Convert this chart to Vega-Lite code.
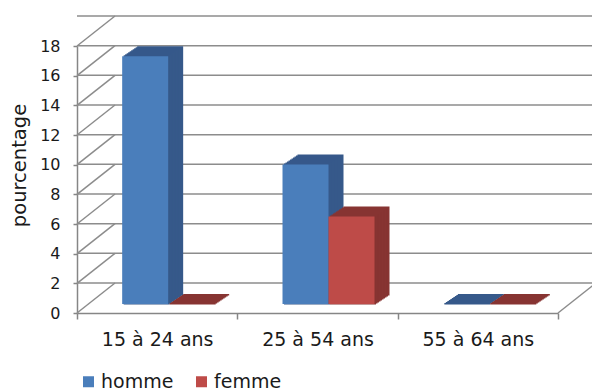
{
  "$schema": "https://vega.github.io/schema/vega-lite/v6.json",
  "width": 481,
  "height": 267,
  "autosize": {"type": "none"},
  "padding": {"left": 77, "top": 46, "right": 34, "bottom": 79},
  "background": "white",
  "config": {
    "font": "DejaVu Sans",
    "view": {"stroke": null},
    "axisY": {
      "domainColor": "#868686", "domainWidth": 1.5,
      "tickColor": "#868686", "tickWidth": 1.5, "tickSize": 4,
      "labelFontSize": 16, "labelColor": "#1a1a1a", "labelPadding": 13,
      "grid": false, "values": [0, 2, 4, 6, 8, 10, 12, 14, 16, 18],
      "titleFontSize": 19.5, "titleFontWeight": "normal", "titleColor": "#1a1a1a",
      "titleAngle": -90, "titleX": -58, "titleY": 119, "titleAlign": "center", "titleBaseline": "middle"
    },
    "axisX": {
      "domainColor": "#868686", "domainWidth": 1.5,
      "tickColor": "#868686", "tickWidth": 1.5, "tickSize": 6, "tickBand": "extent",
      "labelFontSize": 19, "labelColor": "#1a1a1a", "labelPadding": 11, "labelAngle": 0,
      "grid": false
    },
    "legend": {
      "orient": "none", "legendX": 2, "legendY": 326, "direction": "horizontal",
      "symbolType": "square", "symbolSize": 121, "symbolStrokeWidth": 0,
      "labelFontSize": 19, "labelColor": "#1a1a1a", "labelOffset": 3, "columnPadding": 18,
      "padding": 0
    }
  },
  "datasets": {
    "grille": [
      {"v": 0}, {"v": 2}, {"v": 4}, {"v": 6}, {"v": 8},
      {"v": 10}, {"v": 12}, {"v": 14}, {"v": 16}, {"v": 18}
    ],
    "barres": [
      {"groupe": "15 à 24 ans", "sexe": "homme", "valeur": 16.7},
      {"groupe": "25 à 54 ans", "sexe": "homme", "valeur": 9.4},
      {"groupe": "55 à 64 ans", "sexe": "homme", "valeur": 0},
      {"groupe": "15 à 24 ans", "sexe": "femme", "valeur": 0},
      {"groupe": "25 à 54 ans", "sexe": "femme", "valeur": 5.9},
      {"groupe": "55 à 64 ans", "sexe": "femme", "valeur": 0}
    ]
  },
  "resolve": {"scale": {"x": "independent", "xOffset": "independent", "color": "independent"}},
  "layer": [
    {
      "data": {"name": "grille"},
      "mark": {"type": "rule", "color": "#8c8c8c", "strokeWidth": 1.5, "xOffset": 38, "yOffset": -30},
      "encoding": {
        "y": {"field": "v", "type": "quantitative", "scale": {"domain": [0, 18], "nice": false}, "title": "pourcentage"}
      }
    },
    {
      "data": {"name": "grille"},
      "mark": {"type": "rule", "color": "#8c8c8c", "strokeWidth": 1.5, "y2Offset": -30},
      "encoding": {
        "x": {"value": 0},
        "x2": {"value": 38},
        "y": {"field": "v", "type": "quantitative", "title": "pourcentage"},
        "y2": {"field": "v"}
      }
    },
    {
      "data": {"values": [{"v": 0}]},
      "mark": {"type": "rule", "color": "#8c8c8c", "strokeWidth": 1.5, "x2Offset": 38, "y2Offset": -30},
      "encoding": {
        "x": {"value": "width"},
        "x2": {"value": "width"},
        "y": {"field": "v", "type": "quantitative", "title": "pourcentage"},
        "y2": {"field": "v"}
      }
    },
    {
      "data": {"name": "barres"},
      "mark": {"type": "rule", "opacity": 0},
      "encoding": {
        "x": {"field": "groupe", "type": "nominal", "title": null, "scale": {"paddingInner": 0, "paddingOuter": 0}}
      }
    },
    {
      "data": {"name": "barres"},
      "mark": {"type": "bar", "yOffset": -19, "y2Offset": -17.5},
      "encoding": {
        "x": {"field": "groupe", "type": "nominal", "axis": null, "scale": {"paddingInner": 0, "paddingOuter": 0, "range": [26, 507]}},
        "xOffset": {"field": "sexe", "type": "nominal", "sort": ["homme", "femme"], "scale": {"paddingInner": 0, "paddingOuter": 0.743}},
        "y": {"field": "valeur", "type": "quantitative", "title": "pourcentage"},
        "y2": {"datum": 0},
        "color": {"condition": {"test": "datum.sexe === 'homme'", "value": "#36598a"}, "value": "#873432"}
      }
    },
    {
      "data": {"name": "barres"},
      "mark": {"type": "bar", "yOffset": -18, "y2Offset": -16.5},
      "encoding": {
        "x": {"field": "groupe", "type": "nominal", "axis": null, "scale": {"paddingInner": 0, "paddingOuter": 0, "range": [24.5, 505.5]}},
        "xOffset": {"field": "sexe", "type": "nominal", "sort": ["homme", "femme"], "scale": {"paddingInner": 0, "paddingOuter": 0.743}},
        "y": {"field": "valeur", "type": "quantitative", "title": "pourcentage"},
        "y2": {"datum": 0},
        "color": {"condition": {"test": "datum.sexe === 'homme'", "value": "#36598a"}, "value": "#873432"}
      }
    },
    {
      "data": {"name": "barres"},
      "mark": {"type": "bar", "yOffset": -17, "y2Offset": -15.5},
      "encoding": {
        "x": {"field": "groupe", "type": "nominal", "axis": null, "scale": {"paddingInner": 0, "paddingOuter": 0, "range": [23, 504]}},
        "xOffset": {"field": "sexe", "type": "nominal", "sort": ["homme", "femme"], "scale": {"paddingInner": 0, "paddingOuter": 0.743}},
        "y": {"field": "valeur", "type": "quantitative", "title": "pourcentage"},
        "y2": {"datum": 0},
        "color": {"condition": {"test": "datum.sexe === 'homme'", "value": "#36598a"}, "value": "#873432"}
      }
    },
    {
      "data": {"name": "barres"},
      "mark": {"type": "bar", "yOffset": -16, "y2Offset": -14.5},
      "encoding": {
        "x": {"field": "groupe", "type": "nominal", "axis": null, "scale": {"paddingInner": 0, "paddingOuter": 0, "range": [21.5, 502.5]}},
        "xOffset": {"field": "sexe", "type": "nominal", "sort": ["homme", "femme"], "scale": {"paddingInner": 0, "paddingOuter": 0.743}},
        "y": {"field": "valeur", "type": "quantitative", "title": "pourcentage"},
        "y2": {"datum": 0},
        "color": {"condition": {"test": "datum.sexe === 'homme'", "value": "#36598a"}, "value": "#873432"}
      }
    },
    {
      "data": {"name": "barres"},
      "mark": {"type": "bar", "yOffset": -15, "y2Offset": -13.5},
      "encoding": {
        "x": {"field": "groupe", "type": "nominal", "axis": null, "scale": {"paddingInner": 0, "paddingOuter": 0, "range": [20, 501]}},
        "xOffset": {"field": "sexe", "type": "nominal", "sort": ["homme", "femme"], "scale": {"paddingInner": 0, "paddingOuter": 0.743}},
        "y": {"field": "valeur", "type": "quantitative", "title": "pourcentage"},
        "y2": {"datum": 0},
        "color": {"condition": {"test": "datum.sexe === 'homme'", "value": "#36598a"}, "value": "#873432"}
      }
    },
    {
      "data": {"name": "barres"},
      "mark": {"type": "bar", "yOffset": -14, "y2Offset": -12.5},
      "encoding": {
        "x": {"field": "groupe", "type": "nominal", "axis": null, "scale": {"paddingInner": 0, "paddingOuter": 0, "range": [18.5, 499.5]}},
        "xOffset": {"field": "sexe", "type": "nominal", "sort": ["homme", "femme"], "scale": {"paddingInner": 0, "paddingOuter": 0.743}},
        "y": {"field": "valeur", "type": "quantitative", "title": "pourcentage"},
        "y2": {"datum": 0},
        "color": {"condition": {"test": "datum.sexe === 'homme'", "value": "#36598a"}, "value": "#873432"}
      }
    },
    {
      "data": {"name": "barres"},
      "mark": {"type": "bar", "yOffset": -13, "y2Offset": -11.5},
      "encoding": {
        "x": {"field": "groupe", "type": "nominal", "axis": null, "scale": {"paddingInner": 0, "paddingOuter": 0, "range": [17, 498]}},
        "xOffset": {"field": "sexe", "type": "nominal", "sort": ["homme", "femme"], "scale": {"paddingInner": 0, "paddingOuter": 0.743}},
        "y": {"field": "valeur", "type": "quantitative", "title": "pourcentage"},
        "y2": {"datum": 0},
        "color": {"condition": {"test": "datum.sexe === 'homme'", "value": "#36598a"}, "value": "#873432"}
      }
    },
    {
      "data": {"name": "barres"},
      "mark": {"type": "bar", "yOffset": -12, "y2Offset": -10.5},
      "encoding": {
        "x": {"field": "groupe", "type": "nominal", "axis": null, "scale": {"paddingInner": 0, "paddingOuter": 0, "range": [15.5, 496.5]}},
        "xOffset": {"field": "sexe", "type": "nominal", "sort": ["homme", "femme"], "scale": {"paddingInner": 0, "paddingOuter": 0.743}},
        "y": {"field": "valeur", "type": "quantitative", "title": "pourcentage"},
        "y2": {"datum": 0},
        "color": {"condition": {"test": "datum.sexe === 'homme'", "value": "#36598a"}, "value": "#873432"}
      }
    },
    {
      "data": {"name": "barres"},
      "mark": {"type": "bar", "yOffset": -11, "y2Offset": -9.5},
      "encoding": {
        "x": {"field": "groupe", "type": "nominal", "axis": null, "scale": {"paddingInner": 0, "paddingOuter": 0, "range": [14, 495]}},
        "xOffset": {"field": "sexe", "type": "nominal", "sort": ["homme", "femme"], "scale": {"paddingInner": 0, "paddingOuter": 0.743}},
        "y": {"field": "valeur", "type": "quantitative", "title": "pourcentage"},
        "y2": {"datum": 0},
        "color": {"condition": {"test": "datum.sexe === 'homme'", "value": "#36598a"}, "value": "#873432"}
      }
    },
    {
      "data": {"name": "barres"},
      "mark": {"type": "bar", "yOffset": -10, "y2Offset": -8.5},
      "encoding": {
        "x": {"field": "groupe", "type": "nominal", "axis": null, "scale": {"paddingInner": 0, "paddingOuter": 0, "range": [12.5, 493.5]}},
        "xOffset": {"field": "sexe", "type": "nominal", "sort": ["homme", "femme"], "scale": {"paddingInner": 0, "paddingOuter": 0.743}},
        "y": {"field": "valeur", "type": "quantitative", "title": "pourcentage"},
        "y2": {"datum": 0},
        "color": {"condition": {"test": "datum.sexe === 'homme'", "value": "#36598a"}, "value": "#873432"}
      }
    },
    {
      "data": {"name": "barres"},
      "mark": {"type": "bar", "yOffset": -9, "y2Offset": -9},
      "encoding": {
        "x": {"field": "groupe", "type": "nominal", "axis": null, "scale": {"paddingInner": 0, "paddingOuter": 0, "range": [11, 492]}},
        "xOffset": {"field": "sexe", "type": "nominal", "sort": ["homme", "femme"], "scale": {"paddingInner": 0, "paddingOuter": 0.743}},
        "y": {"field": "valeur", "type": "quantitative", "title": "pourcentage"},
        "y2": {"datum": 0},
        "color": {
          "field": "sexe", "type": "nominal", "title": null,
          "scale": {"domain": ["homme", "femme"], "range": ["#4a7ebb", "#be4b48"]}
        }
      }
    }
  ]
}
